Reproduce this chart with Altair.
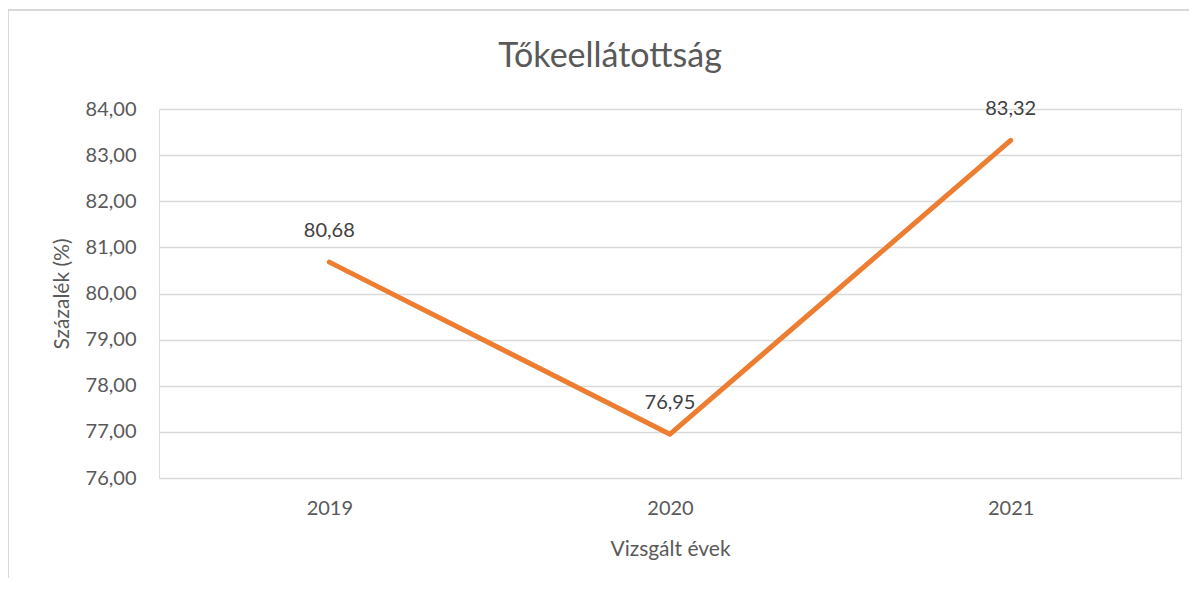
import altair as alt
import pandas as pd

years = ["2019", "2020", "2021"]
values = [80.68, 76.95, 83.32]
y_ticks = [76, 77, 78, 79, 80, 81, 82, 83, 84]

df = pd.DataFrame({"ev": years, "ertek": values})

FONT = "Lato"
W, H = 1022, 369

base = alt.Chart(df)

x_enc = alt.X("ev:N", title="Vizsgált évek", sort=years,
              scale=alt.Scale(paddingInner=0, paddingOuter=0),
              axis=alt.Axis(labelAngle=0, ticks=False, domain=False, grid=False,
                            labelFontSize=20, labelColor="#595959", labelFont=FONT,
                            labelPadding=20, titleFontSize=21, titleFont=FONT,
                            titleColor="#595959", titleFontWeight="normal",
                            titlePadding=20))
y_enc = alt.Y("ertek:Q", title="Százalék (%)",
              scale=alt.Scale(domain=[76, 84], nice=False, zero=False),
              axis=alt.Axis(values=y_ticks, format=".2f", ticks=False, domain=False,
                            gridColor="#D9D9D9", gridWidth=1.3,
                            labelFontSize=20, labelColor="#595959", labelFont=FONT,
                            labelPadding=23, titleFontSize=21, titleFont=FONT,
                            titleColor="#595959", titleFontWeight="normal",
                            titlePadding=13))

line = base.mark_line(color="#ED7D31", strokeWidth=5, strokeCap="round",
                      strokeJoin="round").encode(x=x_enc, y=y_enc)

labels = base.mark_text(dy=-31, fontSize=20, font=FONT, color="#404040").encode(
    x=alt.X("ev:N", sort=years), y="ertek:Q",
    text=alt.Text("ertek:Q", format=".2f"))

border_top = base.mark_rule(color="#D9D9D9", strokeWidth=1.5).encode(
    x=alt.value(-151), x2=alt.value(1031), y=alt.value(-99))
border_left = base.mark_rule(color="#D9D9D9", strokeWidth=1.5).encode(
    x=alt.value(-151), y=alt.value(-99), y2=alt.value(490))

chart = alt.layer(border_top, border_left, line, labels).properties(
    width=W, height=H,
    autosize=alt.AutoSizeParams(type="none"),
    padding={"left": 151, "top": 101, "right": 8, "bottom": 100},
    title=alt.TitleParams("Tőkeellátottság", fontSize=34, font=FONT,
                          fontWeight="normal", color="#595959",
                          anchor="middle", frame="group", dx=-60, offset=0, dy=65),
).configure_view(stroke=None).configure(
    locale=alt.Locale(number=alt.NumberLocale(decimal=",", thousands=" ",
                                              grouping=[3], currency=["", " Ft"]))
)

chart.save("out.html", embed_options={"renderer": "svg", "actions": False})
